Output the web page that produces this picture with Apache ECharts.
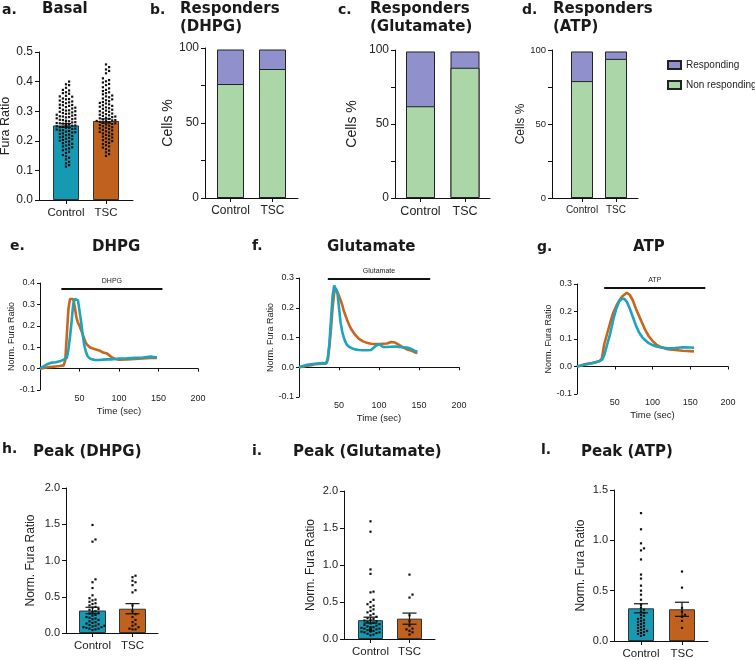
<!DOCTYPE html>
<html><head><meta charset="utf-8">
<script src="https://cdn.jsdelivr.net/npm/echarts@6/dist/echarts.min.js"></script>
<style>html,body{margin:0;padding:0;background:#fff}#c{width:755px;height:660px}</style>
</head><body><div id="c"></div>
<script>
// ---------------- DATA ----------------
const cats = ['Control', 'TSC'];
const respNames = ['Responding', 'Non responding'];

// a. Basal
const basalMean = [0.252, 0.267];
const basalSem = [0.006, 0.007];
const basalCtrl = [0.400,0.391,0.388,0.379,0.372,0.370,0.364,0.361,0.359,0.352,0.350,0.349,0.343,0.341,0.340,0.336,0.333,0.331,0.330,0.327,0.322,0.321,0.320,0.318,0.314,0.312,0.311,0.309,0.305,0.303,0.302,0.300,0.298,0.296,0.294,0.292,0.291,0.288,0.287,0.285,0.283,0.282,0.280,0.279,0.276,0.275,0.273,0.271,0.270,0.268,0.266,0.265,0.263,0.262,0.260,0.259,0.258,0.256,0.255,0.254,0.253,0.252,0.251,0.250,0.249,0.248,0.247,0.246,0.244,0.243,0.241,0.240,0.238,0.236,0.235,0.233,0.231,0.229,0.228,0.225,0.223,0.221,0.219,0.216,0.214,0.212,0.210,0.207,0.205,0.203,0.200,0.198,0.196,0.192,0.190,0.187,0.184,0.181,0.178,0.174,0.171,0.168,0.163,0.159,0.152,0.148,0.143,0.137,0.129,0.124,0.118,0.113];
const basalTSC = [0.458,0.449,0.441,0.436,0.428,0.411,0.405,0.401,0.397,0.392,0.388,0.381,0.377,0.372,0.368,0.364,0.361,0.357,0.353,0.350,0.347,0.343,0.340,0.337,0.334,0.331,0.328,0.326,0.323,0.320,0.318,0.315,0.313,0.310,0.308,0.305,0.302,0.300,0.298,0.295,0.292,0.290,0.288,0.286,0.284,0.282,0.280,0.278,0.276,0.274,0.272,0.270,0.269,0.267,0.266,0.264,0.263,0.261,0.259,0.257,0.255,0.253,0.251,0.249,0.246,0.244,0.242,0.240,0.237,0.235,0.232,0.230,0.228,0.225,0.222,0.220,0.217,0.214,0.211,0.208,0.205,0.202,0.199,0.196,0.193,0.189,0.185,0.181,0.177,0.172,0.167,0.161,0.155,0.149];

// b-d. Responders (%)
const dhpgNonResp = [76, 86];
const dhpgResp = [23, 13];
const gluNonResp = [62, 88];
const gluResp = [37, 11];
const atpNonResp = [79, 94];
const atpResp = [20, 5];

// e. DHPG traces
const dhpgTime = [0,5,10,15,20,25,30,32,34,36,38,40,42,44,46,48,50,52,54,56,58,60,63,66,70,75,80,85,90,95,100,110,120,130,140,148];
const dhpgCtrlTrace = [0,0.012,0.022,0.028,0.030,0.034,0.042,0.046,0.050,0.090,0.150,0.220,0.300,0.325,0.330,0.320,0.270,0.220,0.160,0.110,0.080,0.060,0.048,0.043,0.040,0.040,0.042,0.043,0.043,0.045,0.047,0.048,0.050,0.052,0.056,0.052];
const dhpgTSCTrace = [0,0.003,0.006,0.008,0.010,0.012,0.015,0.040,0.160,0.280,0.325,0.330,0.325,0.290,0.240,0.215,0.200,0.180,0.160,0.140,0.120,0.110,0.100,0.095,0.090,0.085,0.075,0.070,0.055,0.045,0.042,0.043,0.045,0.047,0.050,0.050];
const dhpgStim = [27, 155, 0.375];

// f. Glutamate traces
const gluTime = [0,5,10,15,20,25,30,34,36,38,40,42,44,46,48,50,52,54,56,58,60,63,66,70,75,80,85,90,95,100,105,110,115,120,125,130,135,140,145,148];
const gluCtrlTrace = [0,0.004,0.008,0.010,0.012,0.013,0.014,0.013,0.030,0.080,0.160,0.240,0.275,0.280,0.250,0.200,0.150,0.120,0.100,0.085,0.075,0.068,0.064,0.060,0.058,0.057,0.057,0.058,0.070,0.078,0.068,0.068,0.069,0.070,0.068,0.067,0.066,0.062,0.055,0.052];
const gluTSCTrace = [0,0.002,0.005,0.007,0.010,0.011,0.012,0.013,0.025,0.070,0.130,0.200,0.250,0.265,0.260,0.240,0.225,0.210,0.190,0.175,0.160,0.140,0.125,0.110,0.095,0.087,0.082,0.079,0.078,0.078,0.079,0.080,0.085,0.083,0.075,0.067,0.060,0.056,0.050,0.048];
const gluStim = [36, 164, 0.297];

// g. ATP traces
const atpTime = [0,5,10,15,20,25,30,33,36,40,44,48,52,56,60,63,66,70,74,78,82,86,90,95,100,105,110,120,130,140,150,155];
const atpCtrlTrace = [0,0.003,0.006,0.009,0.012,0.015,0.020,0.024,0.040,0.080,0.120,0.170,0.210,0.237,0.247,0.245,0.235,0.210,0.180,0.150,0.125,0.108,0.096,0.085,0.078,0.073,0.070,0.066,0.067,0.070,0.069,0.068];
const atpTSCTrace = [0,0.004,0.008,0.011,0.013,0.016,0.020,0.030,0.080,0.120,0.160,0.195,0.220,0.240,0.255,0.262,0.268,0.260,0.240,0.210,0.185,0.160,0.135,0.110,0.093,0.080,0.072,0.063,0.060,0.057,0.056,0.055];
const atpStim = [36, 170, 0.287];

// h. Peak (DHPG)
const dhpgPeakMean = [0.31, 0.335];
const dhpgPeakSem = [0.045, 0.07];
const dhpgPeakCtrl = [1.49,1.29,1.26,0.74,0.70,0.62,0.52,0.48,0.46,0.45,0.43,0.41,0.40,0.38,0.36,0.35,0.33,0.32,0.30,0.29,0.28,0.27,0.25,0.24,0.22,0.21,0.20,0.19,0.18,0.16,0.15,0.14,0.13,0.12,0.11,0.10,0.10,0.09,0.08,0.08,0.07,0.06,0.06,0.05,0.04];
const dhpgPeakTSC = [0.79,0.77,0.72,0.70,0.66,0.59,0.56,0.38,0.30,0.26,0.22,0.18,0.15,0.12,0.10,0.08,0.06,0.05,0.05];

// i. Peak (Glutamate)
const gluPeakMean = [0.255, 0.275];
const gluPeakSem = [0.04, 0.075];
const gluPeakCtrl = [1.59,1.45,0.94,0.88,0.64,0.63,0.53,0.50,0.47,0.45,0.43,0.40,0.38,0.36,0.34,0.32,0.30,0.28,0.27,0.26,0.25,0.24,0.23,0.22,0.21,0.20,0.19,0.18,0.17,0.16,0.16,0.15,0.15,0.14,0.14,0.13,0.13,0.13,0.12,0.12,0.12,0.12,0.11,0.11,0.11,0.10,0.10,0.09,0.09,0.08,0.07,0.06,0.05];
const gluPeakTSC = [0.87,0.60,0.56,0.32,0.24,0.18,0.14,0.13,0.11,0.09,0.06];

// l. Peak (ATP)
const atpPeakMean = [0.325, 0.315];
const atpPeakSem = [0.045, 0.07];
const atpPeakCtrl = [1.27,1.11,0.97,0.92,0.90,0.81,0.66,0.62,0.55,0.50,0.46,0.41,0.36,0.33,0.31,0.29,0.28,0.26,0.25,0.23,0.22,0.21,0.20,0.19,0.18,0.17,0.16,0.15,0.14,0.13,0.12,0.11,0.10,0.10,0.09,0.08,0.07,0.06,0.05];
const atpPeakTSC = [0.69,0.53,0.33,0.29,0.26,0.24,0.20,0.13];

// ---------------- STYLE ----------------
const SANS = 'Liberation Sans';
const BOLD = 'DejaVu Sans';
const BLUE_BAR = '#1699b3', ORANGE_BAR = '#c0621d';
const BLUE_LINE = '#1ba3bf', ORANGE_LINE = '#c9661e';
const PURPLE = '#8f90cc', GREEN = '#aad6a8';
const INK = '#111';

const grids = [], xAxes = [], yAxes = [], series = [], titles = [];

function addTitle(text, left, top, size) {
  titles.push({ text, left, top, padding: 0,
    textStyle: { fontFamily: BOLD, fontWeight: 'bold', fontSize: size || 15, color: '#1a1a1a', lineHeight: 18 } });
}

function axisLineStyle() { return { show: true, onZero: false, lineStyle: { color: INK, width: 1 } }; }

function swarm(vals, pxPerUnit, s, maxOff) {
  const order = vals.map((v, i) => i).sort((a, b) => vals[a] - vals[b]);
  const placed = [], off = new Array(vals.length).fill(0);
  for (const i of order) {
    const y = vals[i] * pxPerUnit;
    let chosen = null;
    for (let k = 0; k < 40; k++) {
      const o = (k % 2 === 1 ? 1 : -1) * Math.ceil(k / 2) * s;
      if (Math.abs(o) > maxOff) break;
      if (!placed.some(p => Math.abs(p.y - y) < s && Math.abs(p.o - o) < s)) { chosen = o; break; }
    }
    if (chosen === null) chosen = 0;
    off[i] = chosen; placed.push({ y, o: chosen });
  }
  return off;
}

function dotRender(params, api) {
  const p = api.coord([api.value(0), api.value(1)]);
  return { type: 'rect', shape: { x: p[0] + api.value(2) - 1.1, y: p[1] - 1.1, width: 2.2, height: 2.2 }, style: { fill: INK } };
}
function errRender(capW) {
  return function (params, api) {
    const x = api.value(0), m = api.value(1), s = api.value(2);
    const t = api.coord([x, m + s]), b = api.coord([x, m - s]);
    const st = { stroke: INK, lineWidth: 1.2 };
    return { type: 'group', children: [
      { type: 'line', shape: { x1: t[0], y1: t[1], x2: b[0], y2: b[1] }, style: st },
      { type: 'line', shape: { x1: t[0] - capW / 2, y1: t[1], x2: t[0] + capW / 2, y2: t[1] }, style: st },
      { type: 'line', shape: { x1: b[0] - capW / 2, y1: b[1], x2: b[0] + capW / 2, y2: b[1] }, style: st }
    ] };
  };
}

// category-like panel on a value x-axis so bar centres can be placed freely
function catPanel(c) {
  const gi = grids.length;
  grids.push({ left: c.left, top: c.top, width: c.right - c.left, height: c.height, containLabel: false, outerBoundsMode: 'none' });
  const k = c.c1 - c.c0;
  const min = -(c.c0 - c.left) / k;
  const max = min + (c.right - c.left) / k;
  xAxes.push({ type: 'value', gridIndex: gi, min, max, splitLine: { show: false },
    axisLine: axisLineStyle(),
    axisTick: { show: true, length: 4, customValues: [0, 1], lineStyle: { color: INK } },
    axisLabel: { customValues: [0, 1], formatter: v => cats[Math.round(v)], fontFamily: SANS, fontSize: c.catFont, color: '#222', margin: c.catMargin || 7 } });
  yAxes.push({ type: 'value', gridIndex: gi, min: 0, max: c.yMax, interval: c.yInt, splitLine: { show: false },
    axisLine: axisLineStyle(), axisTick: { show: true, length: 4, lineStyle: { color: INK } },
    axisLabel: { formatter: c.yFmt, fontFamily: SANS, fontSize: c.tickFont, color: '#222', margin: 6 },
    name: c.yName, nameLocation: 'middle', nameGap: c.nameGap, nameRotate: 90,
    nameTextStyle: { fontFamily: SANS, fontSize: c.nameFont, color: '#222' } });
  return gi;
}

function meanPanel(c, means, sems, ctrlVals, tscVals) {
  const gi = catPanel(c);
  series.push({ type: 'bar', xAxisIndex: gi, yAxisIndex: gi, barWidth: c.bw, z: 2,
    data: means.map((m, i) => ({ value: [i, m], itemStyle: { color: i === 0 ? BLUE_BAR : ORANGE_BAR, borderColor: '#333', borderWidth: 1 } })) });
  const ppu = c.height / c.yMax;
  [ctrlVals, tscVals].forEach((vals, ci) => {
    const off = swarm(vals, ppu, c.dot, c.maxOff);
    series.push({ type: 'custom', xAxisIndex: gi, yAxisIndex: gi, z: 3, renderItem: dotRender,
      data: vals.map((v, j) => [ci, v, off[j]]) });
  });
  series.push({ type: 'custom', xAxisIndex: gi, yAxisIndex: gi, z: 4, renderItem: errRender(c.cap),
    data: means.map((m, i) => [i, m, sems[i]]) });
}

// stacked responders bar: purple segment drawn as the full column (non + responding),
// green non-responding part drawn over it from zero
function stackPanel(c, nonResp, resp) {
  const gi = catPanel(c);
  series.push({ type: 'bar', name: respNames[0], xAxisIndex: gi, yAxisIndex: gi, barWidth: c.bw, barGap: '-100%', z: 2,
    itemStyle: { color: PURPLE, borderColor: '#222', borderWidth: 1 },
    data: resp.map((v, i) => [i, nonResp[i] + v]) });
  series.push({ type: 'bar', name: respNames[1], xAxisIndex: gi, yAxisIndex: gi, barWidth: c.bw, barGap: '-100%', z: 3,
    itemStyle: { color: GREEN, borderColor: '#222', borderWidth: 1 },
    data: nonResp.map((v, i) => [i, v]) });
}

function tracePanel(c, time, ctrl, tsc, stim, stimName) {
  const gi = grids.length;
  grids.push({ left: c.left, top: c.top, width: c.width, height: c.height, containLabel: false, outerBoundsMode: 'none' });
  xAxes.push({ type: 'value', gridIndex: gi, min: 0, max: 200, interval: 50, splitLine: { show: false },
    axisLine: { show: true, onZero: true, lineStyle: { color: INK, width: 1 } },
    axisTick: { show: true, length: 3, lineStyle: { color: INK } },
    axisLabel: { formatter: v => v === 0 ? '' : String(v), fontFamily: SANS, fontSize: 9, color: '#222', margin: 4 },
    name: 'Time (sec)', nameLocation: 'middle', nameGap: 16, nameTextStyle: { fontFamily: SANS, fontSize: 9.5, color: '#222' } });
  yAxes.push({ type: 'value', gridIndex: gi, min: -0.1, max: c.yMax, interval: 0.1, splitLine: { show: false },
    axisLine: axisLineStyle(), axisTick: { show: true, length: 3, lineStyle: { color: INK } },
    axisLabel: { formatter: v => v.toFixed(1), fontFamily: SANS, fontSize: 9, color: '#222', margin: 5 },
    name: 'Norm. Fura Ratio', nameLocation: 'middle', nameGap: c.nameGap, nameRotate: 90,
    nameTextStyle: { fontFamily: SANS, fontSize: 9, color: '#222' } });
  series.push({ type: 'line', xAxisIndex: gi, yAxisIndex: gi, showSymbol: false, silent: true, z: 3,
    lineStyle: { color: ORANGE_LINE, width: 2.6 }, data: time.map((t, i) => [t, tsc[i]]),
    markLine: { silent: true, symbol: ['none', 'none'], lineStyle: { color: INK, width: 2, type: 'solid' },
      label: { show: true, position: 'middle', formatter: stimName, fontFamily: SANS, fontSize: 7, color: '#222', distance: 4 },
      data: [[{ coord: [stim[0], stim[2]] }, { coord: [stim[1], stim[2]] }]] } });
  series.push({ type: 'line', xAxisIndex: gi, yAxisIndex: gi, showSymbol: false, silent: true, z: 4,
    lineStyle: { color: BLUE_LINE, width: 2.6 }, data: time.map((t, i) => [t, ctrl[i]]) });
}

// ---------------- PANELS ----------------
const fmt1 = v => v.toFixed(1);
const fmtPct = v => (v % 50 === 0 ? String(v) : '');

// a
meanPanel({ left: 39, right: 133, c0: 66, c1: 106, top: 52, height: 148, yMax: 0.5, yInt: 0.1, yFmt: fmt1,
  tickFont: 12, catFont: 11.5, yName: 'Fura Ratio', nameGap: 24, nameFont: 12.5, bw: 26, dot: 3.1, maxOff: 13, cap: 10 },
  basalMean, basalSem, basalCtrl, basalTSC);
// b
stackPanel({ left: 205, right: 298, c0: 230.5, c1: 272.5, top: 48, height: 150, yMax: 100, yInt: 25, yFmt: fmtPct,
  tickFont: 12, catFont: 12, yName: 'Cells %', nameGap: 30, nameFont: 14, bw: 27 }, dhpgNonResp, dhpgResp);
// c
stackPanel({ left: 395, right: 490, c0: 420.5, c1: 465, top: 50, height: 148, yMax: 100, yInt: 25, yFmt: fmtPct,
  tickFont: 12, catFont: 12.5, yName: 'Cells %', nameGap: 36, nameFont: 14, bw: 29 }, gluNonResp, gluResp);
// d
stackPanel({ left: 552, right: 638, c0: 582, c1: 616, top: 50, height: 148, yMax: 100, yInt: 25, yFmt: fmtPct,
  tickFont: 9.5, catFont: 10, yName: 'Cells %', nameGap: 17, nameFont: 12, bw: 22 }, atpNonResp, atpResp);

// e-g
tracePanel({ left: 40, top: 283, width: 158, height: 107, yMax: 0.4, nameGap: 23 }, dhpgTime, dhpgCtrlTrace, dhpgTSCTrace, dhpgStim, 'DHPG');
tracePanel({ left: 299, top: 278, width: 160, height: 119, yMax: 0.3, nameGap: 22 }, gluTime, gluCtrlTrace, gluTSCTrace, gluStim, 'Glutamate');
tracePanel({ left: 577, top: 284, width: 151, height: 110, yMax: 0.3, nameGap: 23 }, atpTime, atpCtrlTrace, atpTSCTrace, atpStim, 'ATP');

// h, i, l
meanPanel({ left: 66, right: 158, c0: 92.5, c1: 132.5, top: 488, height: 145, yMax: 2.0, yInt: 0.5, yFmt: fmt1,
  tickFont: 11, catFont: 11.5, yName: 'Norm. Fura Ratio', nameGap: 29, nameFont: 12, bw: 27, dot: 3, maxOff: 12, cap: 14 },
  dhpgPeakMean, dhpgPeakSem, dhpgPeakCtrl, dhpgPeakTSC);
meanPanel({ left: 344, right: 435, c0: 370.5, c1: 409.5, top: 491, height: 148, yMax: 2.0, yInt: 0.5, yFmt: fmt1,
  tickFont: 11, catFont: 11.5, yName: 'Norm. Fura Ratio', nameGap: 27, nameFont: 12, bw: 25, dot: 3, maxOff: 11, cap: 14 },
  gluPeakMean, gluPeakSem, gluPeakCtrl, gluPeakTSC);
meanPanel({ left: 614, right: 708, c0: 641, c1: 682, top: 490, height: 151, yMax: 1.5, yInt: 0.5, yFmt: fmt1,
  tickFont: 11, catFont: 11.5, yName: 'Norm. Fura Ratio', nameGap: 27, nameFont: 12, bw: 26, dot: 3, maxOff: 12, cap: 14 },
  atpPeakMean, atpPeakSem, atpPeakCtrl, atpPeakTSC);

// ---------------- TITLES ----------------
addTitle('a.', 2, 1, 14); addTitle('Basal', 42, 0);
addTitle('b.', 150, 1, 14); addTitle('Responders\n(DHPG)', 180, 0);
addTitle('c.', 338, 1, 14); addTitle('Responders\n(Glutamate)', 370, 0);
addTitle('d.', 522, 1, 14); addTitle('Responders\n(ATP)', 553, 0);
addTitle('e.', 10, 237, 14); addTitle('DHPG', 92, 238);
addTitle('f.', 252, 237, 14); addTitle('Glutamate', 327, 238);
addTitle('g.', 537, 238, 14); addTitle('ATP', 633, 238);
addTitle('h.', 2, 440, 14); addTitle('Peak (DHPG)', 33, 443);
addTitle('i.', 252, 442, 14); addTitle('Peak (Glutamate)', 293, 443);
addTitle('l.', 541, 441, 14); addTitle('Peak (ATP)', 581, 443);

const chart = echarts.init(document.getElementById('c'), null, { renderer: 'canvas' });
chart.setOption({
  animation: false,
  backgroundColor: '#fff',
  title: titles,
  legend: { data: respNames, orient: 'vertical', left: 662, top: 55, itemWidth: 13, itemHeight: 8, itemGap: 10,
    icon: 'rect', selectedMode: false, textStyle: { fontFamily: SANS, fontSize: 10, color: '#222' } },
  grid: grids, xAxis: xAxes, yAxis: yAxes, series
});
</script></body></html>
